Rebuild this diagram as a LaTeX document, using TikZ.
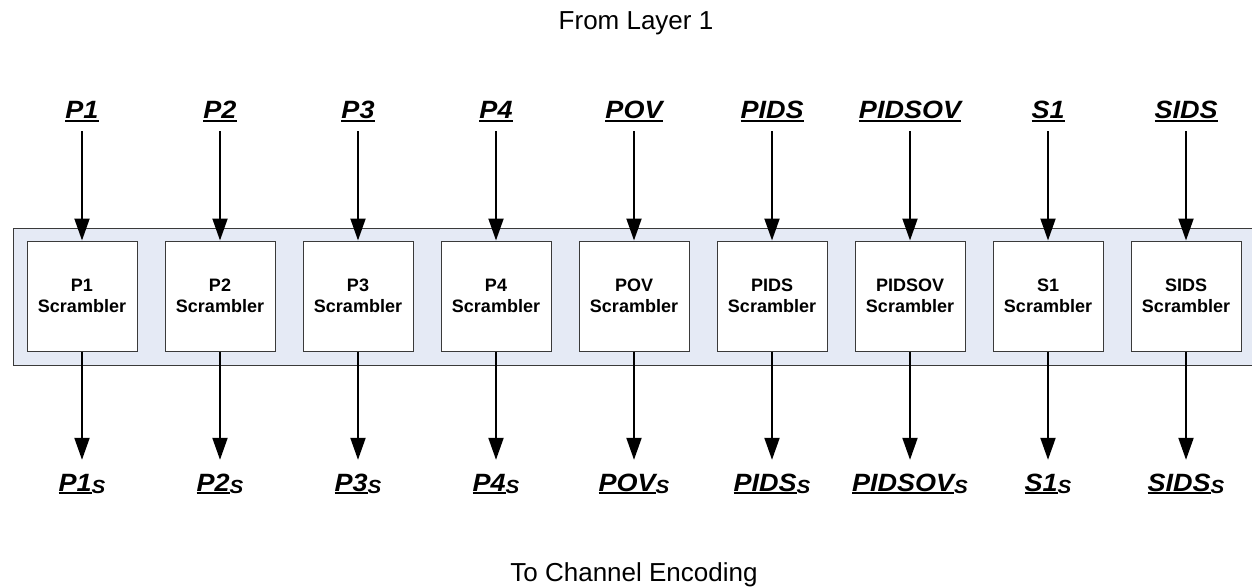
\documentclass[tikz,border=0pt]{standalone}
\usepackage{fontspec}
\setmainfont{Liberation Sans}
\newfontfamily\labelfont[FakeStretch=1.08]{Liberation Sans}
\usetikzlibrary{arrows.meta}
\definecolor{panelblue}{HTML}{E5EAF5}
\definecolor{edgegray}{HTML}{3A3A3A}
% underlined text with a thick rule
\newcommand{\ultext}[1]{\setbox0\hbox{#1}\leavevmode\rlap{\rule[-3.25pt]{\wd0}{2.5pt}}\box0}
\begin{document}
\begin{tikzpicture}[x=1pt,y=-1pt,
  panel/.style={draw=edgegray, line width=1pt, fill=panelblue, inner sep=0pt},
  scram/.style={draw=edgegray, line width=1pt, fill=white, minimum width=110pt,
    minimum height=110pt, inner sep=0pt, align=center,
    font=\fontsize{18}{21}\selectfont\bfseries},
  inlab/.style={inner xsep=0pt, inner ysep=8.75pt, anchor=base,
    font=\labelfont\fontsize{25}{30}\selectfont\bfseries\itshape},
  outlab/.style={inner xsep=0pt, inner ysep=12pt, anchor=base,
    font=\labelfont\fontsize{25}{30}\selectfont\bfseries\itshape},
  flow/.style={line width=2pt, -{Triangle[length=22pt,width=15pt]}},
  caption/.style={anchor=base, inner sep=0pt, font=\fontsize{26}{31}\selectfont}]
\useasboundingbox (0,0) rectangle (1252,588);

% shaded band holding the scramblers (runs off the right edge)
\begin{scope}
  \clip (0,0) rectangle (1252,588);
  \node[panel, anchor=north west, minimum width=1260pt, minimum height=137pt]
    (panel) at (13,228) {};
\end{scope}

\node[caption] (src) at (636,30) {From Layer 1};
\node[caption] (dst) at (634,581) {To Channel Encoding};

\foreach \lab [count=\i from 0] in {P1,P2,P3,P4,POV,PIDS,PIDSOV,S1,SIDS} {
  \pgfmathsetmacro\cx{82+138*\i}
  \node[scram] (box\i) at (\cx,296) {\lab\\Scrambler};
  \node[inlab] (in\i) at (\cx,119) {\ultext{\lab}};
  \node[outlab] (out\i) at (\cx,491)
    {\rule{0pt}{19pt}\ultext{\lab}\raisebox{-2pt}{\fontsize{19}{19}\selectfont S}};
  \draw[flow] (in\i.south) -- (box\i.north);
  \draw[flow] (box\i.south) -- (out\i.north);
}
\end{tikzpicture}
\end{document}
